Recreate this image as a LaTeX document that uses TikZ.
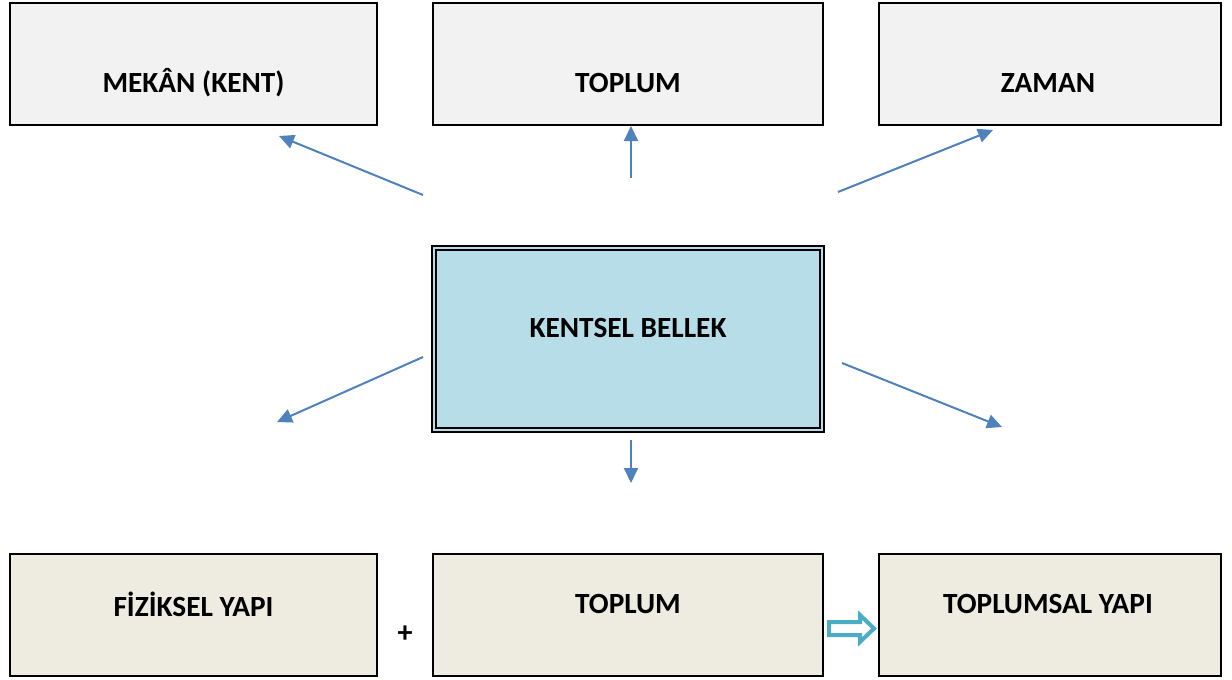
\documentclass[tikz,border=0pt]{standalone}
\usepackage{fontspec}
\setmainfont{Carlito}
\usetikzlibrary{arrows.meta}
\definecolor{topfill}{HTML}{F2F2F2}
\definecolor{botfill}{HTML}{EEECE1}
\definecolor{midfill}{HTML}{B7DDE8}
\definecolor{arrblue}{HTML}{4F81BD}
\definecolor{blockarr}{HTML}{4BACC6}
\begin{document}
\begin{tikzpicture}[x=1pt,y=-1pt,
  box/.style={draw=black,line width=2pt,rectangle,inner sep=0pt},
  lbl/.style={font=\fontsize{29.3}{34}\selectfont\bfseries,inner sep=0pt},
  conn/.style={draw=arrblue,line width=2pt,-{Triangle[length=15pt,width=14pt]}}]
\useasboundingbox (0,0) rectangle (1232,680);
% top boxes
\node[box,fill=topfill,minimum width=367pt,minimum height=122pt] (tl) at (193.5,64) {};
\node[box,fill=topfill,minimum width=390pt,minimum height=122pt] (tm) at (628,64) {};
\node[box,fill=topfill,minimum width=342pt,minimum height=122pt] (tr) at (1050,64) {};
\node[lbl] (tlt) at (193.5,83) {MEKÂN (KENT)};
\node[lbl] (tmt) at (628,83) {TOPLUM};
\node[lbl] (trt) at (1048,83) {ZAMAN};
% center box
\node[draw=black,line width=2.5pt,fill=midfill,minimum width=392pt,minimum height=186pt,inner sep=0pt] (c) at (628,339) {};
\node[draw=black,line width=1.2pt,minimum width=384pt,minimum height=178pt,inner sep=0pt] (ci) at (628,339) {};
\node[lbl] (ct) at (628,328) {KENTSEL BELLEK};
% bottom boxes
\node[box,fill=botfill,minimum width=367pt,minimum height=122pt] (bl) at (193.5,615) {};
\node[box,fill=botfill,minimum width=390pt,minimum height=122pt] (bm) at (628,615) {};
\node[box,fill=botfill,minimum width=342pt,minimum height=122pt] (br) at (1050,615) {};
\node[lbl] (blt) at (193.5,604) {FİZİKSEL YAPI};
\node[lbl] (bmt) at (628,604) {TOPLUM};
\node[lbl] (brt) at (1048,604) {TOPLUMSAL YAPI};
\node[font=\fontsize{30}{32}\selectfont\bfseries,inner sep=0pt] (plus) at (405,634) {+};
% arrow endpoints
\coordinate (a1s) at (423,195); \coordinate (a1e) at (279,136);
\coordinate (a2s) at (631,178); \coordinate (a2e) at (631,126);
\coordinate (a3s) at (838,192); \coordinate (a3e) at (993,130);
\coordinate (a4s) at (423,357); \coordinate (a4e) at (277,422);
\coordinate (a5s) at (842,363); \coordinate (a5e) at (1002,427);
\coordinate (a6s) at (631,440); \coordinate (a6e) at (631,483);
\draw[conn] (a1s) -- (a1e);
\draw[conn] (a2s) -- (a2e);
\draw[conn] (a3s) -- (a3e);
\draw[conn] (a4s) -- (a4e);
\draw[conn] (a5s) -- (a5e);
\draw[conn] (a6s) -- (a6e);
% block arrow
\draw[blockarr,line width=4pt,fill=white,line join=miter]
  (829,622) -- (860,622) -- (860,615) -- (874,628.5) -- (860,642) -- (860,635) -- (829,635) -- cycle;
\end{tikzpicture}
\end{document}
